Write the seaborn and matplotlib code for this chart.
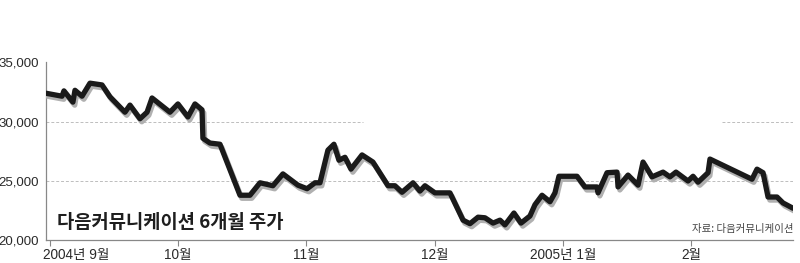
import matplotlib
matplotlib.use("Agg")
import matplotlib.pyplot as plt
import matplotlib.patheffects as pe
import matplotlib.transforms as mtransforms
import seaborn as sns
import pandas as pd

# months since 2004-09-01 (tick at each month start)
month_pos = [-0.031, 0.094, 0.109, 0.179, 0.195, 0.25, 0.312, 0.406, 0.468, 0.585,
             0.624, 0.702, 0.757, 0.796, 0.936, 0.998, 1.076, 1.131, 1.186, 1.193,
             1.248, 1.326, 1.482, 1.560, 1.638, 1.739, 1.817, 1.934, 2.005, 2.067,
             2.106, 2.168, 2.215, 2.254, 2.301, 2.348, 2.434, 2.519, 2.637, 2.691,
             2.746, 2.832, 2.886, 2.925, 3.003, 3.120, 3.222, 3.276, 3.339, 3.393,
             3.456, 3.510, 3.549, 3.619, 3.674, 3.744, 3.783, 3.838, 3.900, 3.939,
             3.970, 4.111, 4.173, 4.267, 4.275, 4.345, 4.423, 4.431, 4.509, 4.587,
             4.626, 4.696, 4.782, 4.836, 4.883, 4.977, 5.016, 5.055, 5.133, 5.148,
             5.476, 5.515, 5.562, 5.601, 5.671, 5.718, 5.796]
price = [32400, 32150, 32600, 31650, 32650, 32150, 33250, 33100, 32100, 30800,
         31400, 30250, 30800, 32000, 30800, 31500, 30400, 31500, 31000, 28600,
         28200, 28100, 23800, 23800, 24850, 24600, 25600, 24650, 24350, 24850,
         24850, 27600, 28100, 26750, 27000, 26000, 27200, 26600, 24600, 24600,
         24050, 24850, 24150, 24600, 24000, 24000, 21700, 21400, 21950, 21900,
         21450, 21700, 21300, 22300, 21450, 22050, 23000, 23800, 23250, 24000,
         25400, 25400, 24500, 24500, 24000, 25700, 25750, 24500, 25500, 24650,
         26600, 25350, 25750, 25350, 25750, 25000, 25400, 24900, 25700, 26850,
         25150, 26000, 25700, 23650, 23650, 23150, 22700]

tick_pos = [0, 1, 2, 3, 4, 5]
tick_labels = ["2004년 9월", "10월", "11월", "12월", "2005년 1월", "2월"]
ytick_vals = [20000, 25000, 30000, 35000]
ytick_labels = ["20,000", "25,000", "30,000", "35,000"]
title = "다음커뮤니케이션 6개월 주가"
source = "자료: 다음커뮤니케이션"

sns.set_theme(style="white")
plt.rcParams['font.family'] = ['Liberation Sans', 'Noto Sans CJK KR', 'DejaVu Sans']

df = pd.DataFrame({"m": month_pos, "p": price})

fig = plt.figure(figsize=(8, 2.63), dpi=100)
ax = fig.add_axes([0.0575, 0.0863, 0.9338, 0.6764])

# dashed gridlines
gkw = dict(color="#bdbdbd", lw=0.7, ls=(0, (3, 2)), zorder=0)
ax.axhline(25000, **gkw)
ax.axhline(30000, xmin=0, xmax=0.424, **gkw)
ax.axhline(30000, xmin=0.905, xmax=1, **gkw)

sns.lineplot(data=df, x="m", y="p", ax=ax, color="#1a1a1a", lw=3.8,
             estimator=None, sort=False, zorder=3,
             path_effects=[pe.SimpleLineShadow(offset=(1.3, -2.2), shadow_color="#b0b0b0", alpha=1.0),
                           pe.Normal()])

ax.set_xlim(-0.031, 5.796)
ax.set_ylim(20000, 35000)
ax.set_xlabel("")
ax.set_ylabel("")

ax.set_yticks(ytick_vals)
ax.set_yticklabels(ytick_labels, fontsize=9.5, color="#2a2a2a")
ax.tick_params(axis="y", length=0, pad=5)

ax.set_xticks(tick_pos)
ax.set_xticklabels(tick_labels, fontsize=9.8, color="#2a2a2a")
ax.tick_params(axis="x", length=4, width=0.8, color="#888888", pad=1.5, bottom=True)
lbl0 = ax.get_xticklabels()[0]
lbl0.set_ha("left")
lbl0.set_transform(lbl0.get_transform() + mtransforms.ScaledTranslation(-7/100, 0, fig.dpi_scale_trans))

for s in ["top", "right"]:
    ax.spines[s].set_visible(False)
for s in ["left", "bottom"]:
    ax.spines[s].set_color("#888888")
    ax.spines[s].set_linewidth(0.9)

ax.text(57/800, 1 - 222/263, title, transform=fig.transFigure, fontsize=13.5,
        fontweight=900, color="#1e1e1e", ha="left", va="center",
        family=['Noto Sans CJK KR', 'DejaVu Sans'])
ax.text(793/800, 1 - 229/263, source, transform=fig.transFigure, fontsize=7.5,
        color="#444444", ha="right", va="center",
        family=['Noto Sans CJK KR', 'DejaVu Sans'])

fig.savefig("out.png", dpi=100)
